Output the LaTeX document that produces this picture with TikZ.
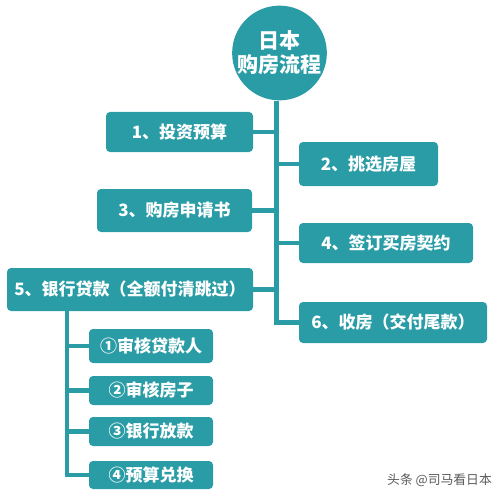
\documentclass[tikz,border=0pt]{standalone}
\usepackage{fontspec}
\newfontfamily\cjk{Noto Sans CJK SC}
\definecolor{teal1}{RGB}{42,156,166}
\definecolor{wm}{RGB}{90,90,90}
\begin{document}
\begin{tikzpicture}[x=1pt,y=-1pt,
  box/.style={fill=teal1,rounded corners=4pt,text=white,font=\cjk\bfseries\fontsize{17}{20}\selectfont,inner sep=0pt,anchor=center},
  sub/.style={box,minimum width=124pt,font=\cjk\bfseries\fontsize{17}{20}\selectfont},
  trunk/.style={draw=teal1,line width=5pt},
  branch/.style={draw=teal1,line width=4.5pt}]
\useasboundingbox (0,0) rectangle (502,497);
% root
\node[circle,fill=teal1,minimum size=94pt,inner sep=0pt,text=white,align=center,
  font=\cjk\bfseries\fontsize{21}{24}\selectfont] (c) at (279.5,53) {日本\\购房流程};
\coordinate (tx) at (276,0);
\coordinate (sx) at (67,0);
% main boxes
\node[box,minimum width=147pt,minimum height=40pt] (b1) at (179.5,132) {1、投资预算};
\node[box,minimum width=139pt,minimum height=44pt] (b2) at (368.5,164) {2、挑选房屋};
\node[box,minimum width=155pt,minimum height=43pt] (b3) at (174.5,210.5) {3、购房申请书};
\node[box,minimum width=174pt,minimum height=40pt] (b4) at (386,243) {4、签订买房契约};
\node[box,minimum width=246pt,minimum height=43pt] (b5) at (130,289.5) {5、银行贷款（全额付清跳过）};
\node[box,minimum width=188pt,minimum height=41pt] (b6) at (393,322.5) {6、收房（交付尾款）};
% sub boxes
\node[sub,minimum height=34pt] (s1) at (151,346) {①审核贷款人};
\node[sub,minimum height=29pt] (s2) at (151,390.5) {②审核房子};
\node[sub,minimum height=29pt] (s3) at (151,431.5) {③银行放款};
\node[sub,minimum height=28pt] (s4) at (151,475) {④预算兑换};
% connectors
\draw[trunk] (c.south -| tx) |- (b6.west);
\foreach \b in {b1,b3,b5} \draw[branch] (\b.east) -- (\b.east -| tx);
\foreach \b in {b2,b4} \draw[branch] (\b.west) -- (\b.west -| tx);
\draw[branch] (b5.south -| sx) |- (s4.west);
\foreach \s in {s1,s2,s3} \draw[branch] (\s.west) -- (\s.west -| sx);
% watermark
\node[text=wm,font=\cjk\fontsize{12.8}{14}\selectfont,anchor=east,inner sep=0pt] (wmk) at (492,480) {头条 @司马看日本};
\end{tikzpicture}
\end{document}
